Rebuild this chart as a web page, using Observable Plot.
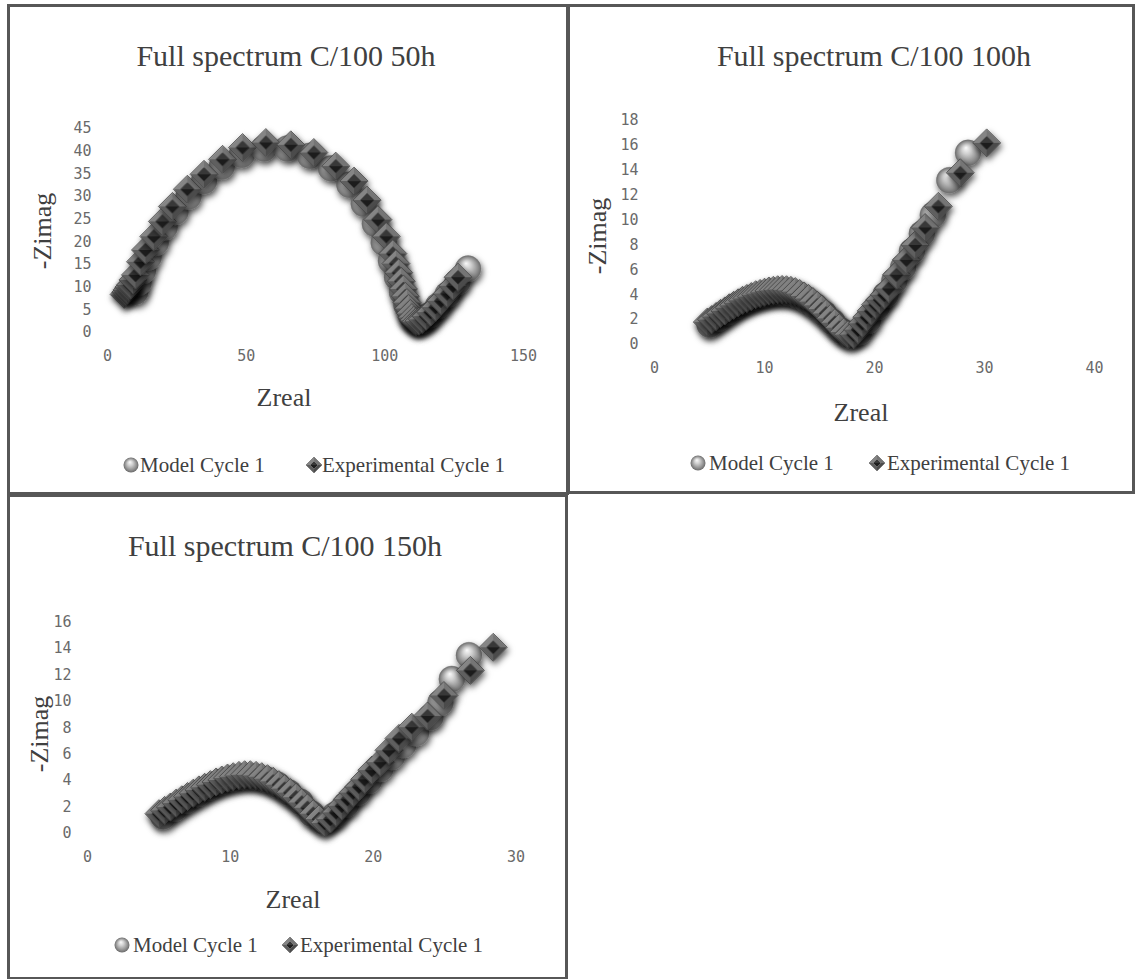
<!DOCTYPE html>
<html>
<head>
<meta charset="utf-8">
<script src="https://cdn.jsdelivr.net/npm/d3@7"></script>
<script src="https://cdn.jsdelivr.net/npm/@observablehq/plot@0.6"></script>
<style>
  body { margin: 0; background: #fff; }
  #page { position: relative; width: 1135px; height: 979px; overflow: hidden; background: #fff; }
  .panel { position: absolute; box-sizing: border-box; border: 3px solid #575757; }
  .txt { position: absolute; font-family: "Liberation Serif", "Times New Roman", serif; color: #404040; white-space: nowrap; line-height: 1; }
  .title { font-size: 30px; transform: translate(-50%, -50%); }
  .xlabel { font-size: 26px; transform: translate(-50%, -50%); }
  .ylabel { font-size: 26px; transform: translate(-50%, -50%) rotate(-90deg); }
  .legtext { font-size: 21px; transform: translateY(-50%); }
  .legsym { position: absolute; overflow: visible; }
</style>
</head>
<body>
<svg width="0" height="0" style="position:absolute">
  <defs>
    <radialGradient id="sphereShade" cx="0.5" cy="0.5" r="0.5" fx="0.42" fy="0.3">
      <stop offset="0" stop-color="#fbfbfb"/>
      <stop offset="0.35" stop-color="#d0d0d0"/>
      <stop offset="0.8" stop-color="#8c8c8c"/>
      <stop offset="1" stop-color="#6a6a6a"/>
    </radialGradient>
    <pattern id="bevelDiamond" patternContentUnits="objectBoundingBox" width="1" height="1">
      <polygon points="0.5,0 0,0.5 0.25,0.5 0.5,0.25" fill="#858585"/>
      <polygon points="0.5,0 1,0.5 0.75,0.5 0.5,0.25" fill="#747474"/>
      <polygon points="1,0.5 0.5,1 0.5,0.75 0.75,0.5" fill="#4c4c4c"/>
      <polygon points="0,0.5 0.5,1 0.5,0.75 0.25,0.5" fill="#5e5e5e"/>
      <polygon points="0.5,0.25 0.75,0.5 0.25,0.5" fill="#383838"/>
      <polygon points="0.25,0.5 0.75,0.5 0.5,0.75" fill="#1e1e1e"/>
    </pattern>
    <filter id="markerShadow" x="-70%" y="-70%" width="240%" height="240%">
      <feDropShadow dx="1.5" dy="3.5" stdDeviation="3.4" flood-color="#000" flood-opacity="0.65"/>
    </filter>
  </defs>
</svg>
<div id="page"></div>
<script>
// ---- Chart text ----
const titles = ["Full spectrum C/100 50h", "Full spectrum C/100 100h", "Full spectrum C/100 150h"];
const seriesNames = ["Model Cycle 1", "Experimental Cycle 1"];
const xTitle = "Zreal";
const yTitle = "-Zimag";

// ---- Axis ticks ----
const xTicks50 = [0, 50, 100, 150];
const yTicks50 = [0, 5, 10, 15, 20, 25, 30, 35, 40, 45];
const xTicks100 = [0, 10, 20, 30, 40];
const yTicks100 = [0, 2, 4, 6, 8, 10, 12, 14, 16, 18];
const xTicks150 = [0, 10, 20, 30];
const yTicks150 = [0, 2, 4, 6, 8, 10, 12, 14, 16];

// ---- 50h: experimental and model spectra (Zreal, -Zimag) ----
const expX50 = [6.0, 6.6, 7.1, 7.7, 8.3, 9.2, 10.1, 11.9, 13.7, 16.7, 19.8, 23.4, 28.8, 34.8, 41.5, 48.7, 57.1, 66.1, 74.4, 82.3, 88.9, 93.6, 97.5, 100.5, 102.9, 104.0, 105.0, 105.9, 106.7, 107.4, 108.0, 108.6, 109.2, 109.8, 110.5, 111.3, 112.3, 113.5, 114.9, 116.5, 118.3, 120.3, 122.5, 124.6, 126.4];
const expY50 = [8.4, 8.9, 9.4, 10.0, 10.5, 11.6, 12.7, 15.6, 18.2, 21.2, 24.5, 27.8, 31.6, 34.9, 38.2, 40.8, 41.9, 41.4, 39.7, 36.7, 33.4, 29.2, 24.9, 21.2, 17.4, 15.2, 13.2, 11.3, 9.6, 8.0, 6.6, 5.3, 4.2, 3.3, 2.7, 2.4, 2.5, 2.9, 3.6, 4.5, 5.6, 7.0, 8.6, 10.3, 12.2];
const modX50 = [10.0, 11.2, 12.8, 14.8, 17.4, 20.6, 24.5, 29.2, 34.8, 41.2, 48.4, 56.4, 64.8, 73.0, 80.6, 87.2, 92.4, 96.4, 99.6, 102.2, 104.4, 106.2, 107.8, 109.4, 111.2, 113.4, 116.0, 119.2, 122.6, 126.2, 130.0];
const modY50 = [9.0, 11.0, 13.6, 16.6, 19.8, 23.2, 26.6, 30.0, 33.4, 36.6, 39.2, 40.6, 40.6, 39.0, 36.2, 32.6, 28.4, 24.0, 19.8, 15.8, 12.2, 8.9, 6.0, 3.8, 2.6, 2.6, 3.8, 5.9, 8.4, 11.2, 14.1];

// ---- 100h ----
const expX100 = [4.8, 5.2, 5.6, 6.0, 6.4, 6.8, 7.2, 7.6, 8.0, 8.4, 8.8, 9.2, 9.6, 10.0, 10.4, 10.8, 11.2, 11.6, 12.0, 12.4, 12.8, 13.2, 13.6, 14.0, 14.4, 14.8, 15.2, 15.6, 16.0, 16.4, 16.8, 17.2, 17.6, 18.1, 18.5, 18.9, 19.3, 19.7, 20.1, 20.5, 20.9, 21.3, 22.0, 22.9, 23.7, 24.6, 25.8, 27.8, 30.2];
const expY100 = [1.8, 2.0, 2.25, 2.5, 2.7, 2.95, 3.15, 3.35, 3.55, 3.7, 3.85, 4.0, 4.1, 4.2, 4.3, 4.35, 4.4, 4.42, 4.4, 4.35, 4.25, 4.1, 3.9, 3.7, 3.45, 3.15, 2.85, 2.5, 2.1, 1.75, 1.35, 1.0, 0.8, 0.8, 1.2, 1.7, 2.2, 2.7, 3.2, 3.6, 4.0, 4.5, 5.6, 6.8, 8.0, 9.4, 11.1, 13.8, 16.2];
const modX100 = [5.0, 5.8, 6.6, 7.4, 8.2, 9.0, 9.8, 10.6, 11.4, 12.2, 13.0, 13.8, 14.6, 15.4, 16.2, 17.0, 17.8, 18.6, 19.4, 20.2, 21.0, 21.8, 22.6, 23.4, 24.3, 25.3, 26.8, 28.5];
const modY100 = [1.6, 2.1, 2.6, 3.1, 3.5, 3.8, 4.0, 4.15, 4.2, 4.15, 3.95, 3.6, 3.1, 2.5, 1.8, 1.1, 0.7, 1.0, 1.9, 3.0, 4.0, 5.1, 6.2, 7.5, 8.9, 10.4, 13.2, 15.4];

// ---- 150h ----
const expX150 = [5.0, 5.4, 5.8, 6.2, 6.6, 7.0, 7.4, 7.8, 8.2, 8.6, 9.0, 9.4, 9.8, 10.2, 10.6, 11.0, 11.4, 11.8, 12.2, 12.6, 13.0, 13.4, 13.8, 14.2, 14.6, 15.0, 15.4, 15.8, 16.2, 16.6, 17.0, 17.4, 17.8, 18.2, 18.6, 19.0, 19.4, 19.9, 20.5, 21.1, 21.8, 22.7, 23.8, 24.95, 26.8, 28.4];
const expY150 = [1.5, 1.75, 2.0, 2.3, 2.55, 2.8, 3.05, 3.3, 3.5, 3.7, 3.9, 4.05, 4.2, 4.3, 4.4, 4.45, 4.45, 4.4, 4.3, 4.15, 3.95, 3.7, 3.4, 3.1, 2.75, 2.35, 1.95, 1.5, 1.1, 0.8, 1.1, 1.6, 2.1, 2.6, 3.1, 3.55, 4.1, 4.8, 5.4, 6.3, 7.2, 8.05, 8.9, 10.45, 12.35, 14.1];
const modX150 = [5.3, 6.1, 6.9, 7.7, 8.5, 9.3, 10.1, 10.9, 11.7, 12.5, 13.3, 14.1, 14.9, 15.7, 16.5, 17.3, 18.1, 18.9, 19.7, 20.5, 21.3, 22.1, 23.0, 24.0, 24.7, 25.5, 26.7];
const modY150 = [1.3, 1.9, 2.5, 3.0, 3.5, 3.9, 4.15, 4.3, 4.3, 4.1, 3.7, 3.1, 2.4, 1.5, 0.9, 1.4, 2.2, 3.1, 4.0, 4.9, 5.8, 6.7, 7.6, 8.8, 9.9, 11.7, 13.5];

// Square rotated by 45 degrees (Excel-style diamond marker)
const squareDiamond = {
  draw(context, size) {
    const h = Math.sqrt(size / Math.PI);
    context.moveTo(0, -h);
    context.lineTo(h, 0);
    context.lineTo(0, h);
    context.lineTo(-h, 0);
    context.closePath();
  }
};

const page = document.getElementById("page");

function addText(cls, text, left, top) {
  const d = document.createElement("div");
  d.className = "txt " + cls;
  d.textContent = text;
  d.style.left = left + "px";
  d.style.top = top + "px";
  page.appendChild(d);
  return d;
}

function addLegendSymbol(kind, cx, cy) {
  const ns = "http://www.w3.org/2000/svg";
  const s = document.createElementNS(ns, "svg");
  s.setAttribute("class", "legsym");
  s.setAttribute("width", 20);
  s.setAttribute("height", 20);
  s.style.left = (cx - 10) + "px";
  s.style.top = (cy - 10) + "px";
  let el;
  if (kind === "sphere") {
    el = document.createElementNS(ns, "circle");
    el.setAttribute("cx", 10); el.setAttribute("cy", 10); el.setAttribute("r", 7.5);
    el.setAttribute("fill", "url(#sphereShade)");
  } else {
    el = document.createElementNS(ns, "path");
    el.setAttribute("d", "M10,2 L18,10 L10,18 L2,10 Z");
    el.setAttribute("fill", "url(#bevelDiamond)");
    el.setAttribute("stroke", "#444");
    el.setAttribute("stroke-width", 0.6);
  }
  s.appendChild(el);
  page.appendChild(s);
}

function nyquistPanel(p) {
  // frame
  const box = document.createElement("div");
  box.className = "panel";
  Object.assign(box.style, {left: p.box[0] + "px", top: p.box[1] + "px", width: p.box[2] + "px", height: p.box[3] + "px"});
  page.appendChild(box);

  const model = p.modX.map((x, i) => ({x, y: p.modY[i]}));
  const exp = p.expX.map((x, i) => ({x, y: p.expY[i]}));
  const [L, T, W, H] = p.svg;
  const [x0, x1, yTop, yBottom] = p.area;

  const chart = Plot.plot({
    width: W,
    height: H,
    marginLeft: x0 - L,
    marginRight: L + W - x1,
    marginTop: yTop - T,
    marginBottom: T + H - yBottom,
    x: {domain: [p.xTicks[0], p.xTicks[p.xTicks.length - 1]], ticks: p.xTicks, tickSize: 0, tickPadding: 18, label: null},
    y: {domain: [p.yTicks[0], p.yTicks[p.yTicks.length - 1]], ticks: p.yTicks, tickSize: 0, tickPadding: 16, label: null},
    style: {fontFamily: "'DejaVu Sans Mono', monospace", fontSize: "15px", color: "#6a6a6a", background: "transparent", overflow: "visible"},
    marks: [
      Plot.dot(model, {x: "x", y: "y", r: 13, fill: "url(#sphereShade)", stroke: "#7a7a7a", strokeWidth: 0.4}),
      Plot.dot(exp, {x: "x", y: "y", r: 14, symbol: squareDiamond, fill: "url(#bevelDiamond)", stroke: "#454545", strokeWidth: 0.8})
    ]
  });
  chart.style.position = "absolute";
  chart.style.left = L + "px";
  chart.style.top = T + "px";
  // soft drop shadow under every marker
  chart.querySelectorAll('g[aria-label="dot"] circle, g[aria-label="dot"] path').forEach(el => el.setAttribute("filter", "url(#markerShadow)"));
  page.appendChild(chart);

  addText("title", p.title, p.titlePos[0], p.titlePos[1]);
  addText("xlabel", xTitle, p.xlabPos[0], p.xlabPos[1]);
  addText("ylabel", yTitle, p.ylabPos[0], p.ylabPos[1]);

  const [sx, tx, dx, ex, ly] = p.legend;
  addLegendSymbol("sphere", sx, ly);
  addText("legtext", seriesNames[0], tx, ly);
  addLegendSymbol("diamond", dx, ly);
  addText("legtext", seriesNames[1], ex, ly);
}

nyquistPanel({
  box: [7, 4, 562, 491], svg: [20, 90, 540, 300], area: [107, 523, 128, 332],
  xTicks: xTicks50, yTicks: yTicks50,
  expX: expX50, expY: expY50, modX: modX50, modY: modY50,
  title: titles[0], titlePos: [286, 56], xlabPos: [284, 398], ylabPos: [43, 231],
  legend: [131, 140, 314, 322, 465]
});
nyquistPanel({
  box: [567, 4, 568, 490], svg: [580, 90, 545, 300], area: [654, 1094, 120, 344],
  xTicks: xTicks100, yTicks: yTicks100,
  expX: expX100, expY: expY100, modX: modX100, modY: modY100,
  title: titles[1], titlePos: [874, 56], xlabPos: [861, 413], ylabPos: [598, 236],
  legend: [698, 709, 877, 887, 463]
});
nyquistPanel({
  box: [7, 494, 561, 486], svg: [20, 590, 540, 290], area: [87, 515.6, 621.7, 833],
  xTicks: xTicks150, yTicks: yTicks150,
  expX: expX150, expY: expY150, modX: modX150, modY: modY150,
  title: titles[2], titlePos: [285, 546], xlabPos: [293, 900], ylabPos: [40, 734],
  legend: [122, 133, 290, 300, 945]
});
</script>
</body>
</html>
